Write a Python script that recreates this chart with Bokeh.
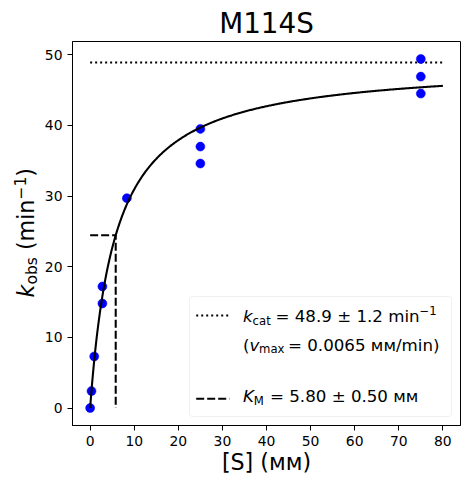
import math
import numpy as np
from bokeh.plotting import figure
from bokeh.models import BoxAnnotation, Range1d, FixedTicker
from bokeh.core.properties import value
from bokeh.embed import file_html
from bokeh.resources import INLINE

# ---------------- data ----------------
title_text = "M114S"
x_label = "[S] (\u043c\u043c)"
S_mM = [0.0, 0.31, 0.93, 2.78, 2.78, 8.33, 25.0, 25.0, 25.0, 75.0, 75.0, 75.0]
k_obs = [0.0, 2.4, 7.3, 14.8, 17.2, 29.7, 39.5, 37.0, 34.6, 49.4, 46.9, 44.5]
kcat = 48.9
kcat_err = 1.2
vmax = 0.0065
KM = 5.80
KM_err = 0.50
fit_x_max = 80.0
x_ticks = [0, 10, 20, 30, 40, 50, 60, 70, 80]
y_ticks = [0, 10, 20, 30, 40, 50]

# Michaelis-Menten fit curve from the fitted parameters
fit_x = np.linspace(0.0, fit_x_max, 400)
fit_y = kcat * fit_x / (KM + fit_x)

# matplotlib-like 5 % autoscale margins
xpad = 0.05 * (fit_x_max - 0.0)
x0, x1 = 0.0 - xpad, fit_x_max + xpad
ypad = 0.05 * (max(k_obs) - min(k_obs))
y0, y1 = min(k_obs) - ypad, max(k_obs) + ypad

FONT = "DejaVu Sans"
FL, FR, FT, FB = 72.0, 460.0, 41.0, 425.0   # plot frame in canvas pixels
W, H = 462, 480
CORR = 0.32   # baseline correction (em)


def px_x(px):
    return x0 + (px - FL) / (FR - FL) * (x1 - x0)


def px_y(py):
    return y0 + (FB - py) / (FB - FT) * (y1 - y0)


p = figure(width=W, height=H, output_backend="svg", toolbar_location=None,
           title=None, x_range=Range1d(x0, x1), y_range=Range1d(y0, y1),
           min_border_left=int(FL), min_border_right=int(W - FR),
           min_border_top=int(FT), min_border_bottom=int(H - FB))
p.background_fill_color = "white"
p.border_fill_color = "white"
p.outline_line_color = "black"
p.outline_line_alpha = 1.0
p.outline_line_width = 1
p.grid.visible = False

for ax, ticks in ((p.xaxis, x_ticks), (p.yaxis, y_ticks)):
    ax.ticker = FixedTicker(ticks=ticks)
    ax.major_tick_out = 5
    ax.major_tick_in = 0
    ax.minor_tick_out = 0
    ax.minor_tick_in = 0
    ax.axis_line_color = "black"
    ax.major_tick_line_color = "black"
    ax.major_label_text_font = FONT
    ax.major_label_text_font_size = "13.9px"
    ax.major_label_text_color = "black"
    ax.major_label_standoff = 5

p.xaxis.axis_label = x_label
p.xaxis.axis_label_text_font = FONT
p.xaxis.axis_label_text_font_size = "22.2px"
p.xaxis.axis_label_text_font_style = "normal"
p.xaxis.axis_label_text_color = "black"
p.xaxis.axis_label_standoff = 0

# ---------------- plot marks ----------------
p.line([0.0, fit_x_max], [kcat, kcat], line_color="black", line_width=2.08,
       line_dash="2 3")
p.line([0.0, KM, KM], [kcat / 2, kcat / 2, 0.0], line_color="black",
       line_width=2.08, line_dash="8 3")
p.scatter(S_mM, k_obs, size=9, fill_color="#0000ff", line_color="#0000ff",
          line_width=0.5)
p.line(fit_x, fit_y, line_color="black", line_width=2.08)

# ---------------- legend (manual) ----------------
box = BoxAnnotation(left=px_x(189), right=px_x(451), top=px_y(296),
                    bottom=px_y(416), fill_color="white", fill_alpha=0.8,
                    line_color="#cccccc", line_width=1, border_radius=3,
                    level="underlay")
p.add_layout(box)

p.line([px_x(195.7), px_x(229)], [px_y(315)] * 2, line_color="black",
       line_width=2.08, line_dash="2 3")
p.line([px_x(195.7), px_x(229)], [px_y(398.3)] * 2, line_color="black",
       line_width=2.08, line_dash="8 3")


def txt(text, px, py, size, style="normal", align="left", angle=0.0):
    if angle == 0.0:
        py = py - CORR * size
    else:
        px = px - CORR * size
    p.text(x=[px_x(px)], y=[px_y(py)], text=[text], text_font=value(FONT),
           text_font_size=value(f"{size}px"), text_font_style=style,
           text_color="black", text_align=align, text_baseline="alphabetic",
           angle=angle, level="overlay")


LF, LS = 16.67, 11.67
# row 1
txt("k", 242.4, 321.7, LF, "italic")
txt("cat", 252.1, 324.0, LS)
txt(f"= {kcat} \u00b1 {kcat_err} min", 275.0, 321.7, LF)
txt("\u22121", 419.0, 314.2, LS)
# row 2
txt("(", 242.4, 350.0, LF)
txt("v", 248.9, 350.0, LF, "italic")
txt("max", 258.6, 352.5, LS)
txt(f"= {vmax} \u043c\u043c/min)", 287.5, 350.0, LF)
# row 4
txt("K", 242.4, 401.7, LF, "italic")
txt("M", 253.3, 404.2, LS)
txt(f"= {KM:.2f} \u00b1 {KM_err:.2f} \u043c\u043c", 269.5, 401.7, LF)

# ---------------- title and y-axis label ----------------
txt(title_text, 266.0, 32.3, 27.8, align="center")

A = math.pi / 2
txt("k", 33.0, 297.0, 22.2, "italic", angle=A)
txt("obs", 36.3, 284.1, 15.5, angle=A)
txt("(min", 33.0, 249.6, 22.2, angle=A)
txt("\u22121", 24.5, 199.1, 15.5, angle=A)
txt(")", 33.0, 176.3, 22.2, angle=A)

open("out.html", "w").write(file_html(p, INLINE))
